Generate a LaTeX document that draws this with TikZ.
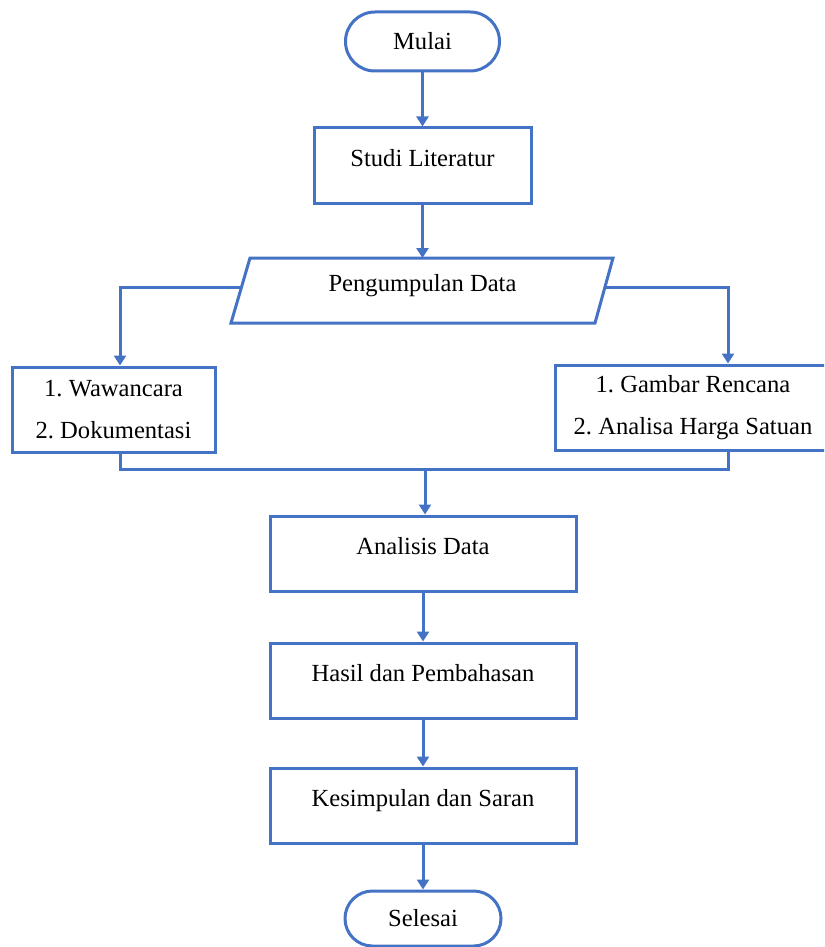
\documentclass[tikz,border=0pt]{standalone}
\usepackage{fontspec}
\setmainfont{Liberation Serif}
\usetikzlibrary{arrows.meta}
\definecolor{flowblue}{RGB}{68,114,196}
\begin{document}
\begin{tikzpicture}[x=0.5pt,y=-0.5pt,
  every node/.style={font=\fontsize{12.3}{21}\selectfont, text=black},
  term/.style={draw=flowblue, line width=1.5pt, minimum width=77pt, minimum height=29.5pt, rounded corners=14.7pt, inner sep=0pt},
  procbox/.style={draw=flowblue, line width=1.5pt, minimum height=37.5pt, inner sep=0pt, text height=8pt, text depth=7.5pt},
  listbox/.style={draw=flowblue, line width=1.5pt, minimum height=42.5pt, inner sep=0pt, align=center},
  conn/.style={draw=flowblue, line width=1.5pt},
  arr/.style={conn, -{Triangle[width=6pt,length=5pt]}}
]
\clip (0,0) rectangle (824,947);
\fill[white] (0,0) rectangle (824,947);

\node[term] (mulai) at (422.5,41.5) {Mulai};
\node[procbox, minimum width=108.5pt] (studi) at (422.5,165.5) {Studi Literatur};

% Pengumpulan Data (parallelogram)
\draw[conn] (250,258) -- (613,258) -- (595,323) -- (231,323) -- cycle;
\node (pd) at (422.5,286) {Pengumpulan Data};
\coordinate (pdtop) at (422.5,258);
\coordinate (pdl) at (241.5,287);
\coordinate (pdr) at (605,287);

\node[listbox, minimum width=101.5pt] (kiri) at (113.5,409.5) {1.\ Wawancara\\2.\ Dokumentasi};
\node[listbox, minimum width=138pt] (kanan) at (693,407.5) {1.\ Gambar Rencana\\2.\ Analisa Harga Satuan};

\node[procbox, minimum width=153pt] (analisis) at (423,553.5) {Analisis Data};
\node[procbox, minimum width=153pt] (hasil) at (423,680.5) {Hasil dan Pembahasan};
\node[procbox, minimum width=153pt] (simpul) at (423,805.5) {Kesimpulan dan Saran};
\node[term, minimum width=78pt, minimum height=27.5pt, rounded corners=13.7pt] (selesai) at (423,918.5) {Selesai};

\coordinate (merge) at (425,469);

\draw[arr] (mulai.south) -- (studi.north);
\draw[arr] (studi.south) -- (pdtop);
\draw[arr] (pdl) -| ([xshift=3.25pt]kiri.north);
\draw[arr] (pdr) -| ([xshift=17.5pt]kanan.north);
\draw[conn] ([xshift=3.25pt]kiri.south) |- (merge);
\draw[conn] ([xshift=17.5pt]kanan.south) |- (merge);
\draw[arr] (merge) -- (merge |- analisis.north);
\draw[arr] (analisis.south) -- (hasil.north);
\draw[arr] (hasil.south) -- (simpul.north);
\draw[arr] (simpul.south) -- (selesai.north);
\end{tikzpicture}
\end{document}
